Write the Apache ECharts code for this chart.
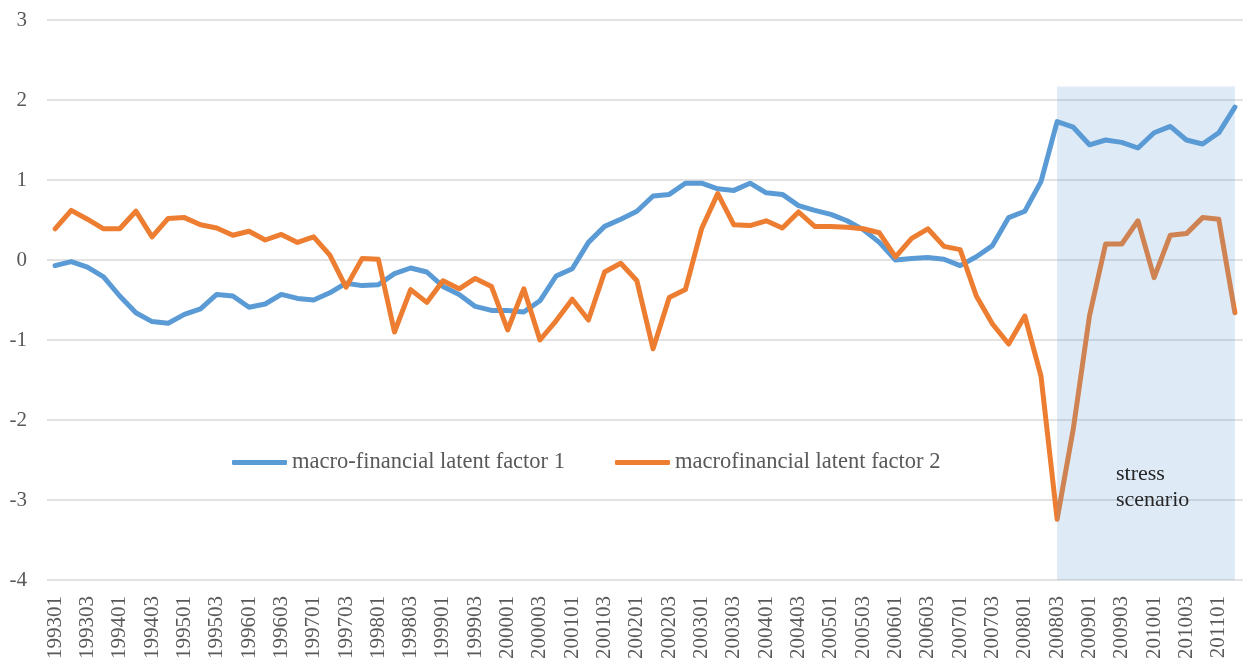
<!DOCTYPE html>
<html>
<head>
<meta charset="utf-8">
<script src="https://cdn.jsdelivr.net/npm/echarts@6/dist/echarts.min.js"></script>
<style>
html,body{margin:0;padding:0;background:#fff;}
#chart{width:1243px;height:664px;}
</style>
</head>
<body>
<div id="chart"></div>
<script>
var quarters = ['199301','199302','199303','199304','199401','199402','199403','199404',
'199501','199502','199503','199504','199601','199602','199603','199604',
'199701','199702','199703','199704','199801','199802','199803','199804',
'199901','199902','199903','199904','200001','200002','200003','200004',
'200101','200102','200103','200104','200201','200202','200203','200204',
'200301','200302','200303','200304','200401','200402','200403','200404',
'200501','200502','200503','200504','200601','200602','200603','200604',
'200701','200702','200703','200704','200801','200802','200803','200804',
'200901','200902','200903','200904','201001','201002','201003','201004',
'201101','201102'];

var factor1 = [-0.07,-0.02,-0.09,-0.21,-0.45,-0.66,-0.77,-0.79,
-0.68,-0.61,-0.43,-0.45,-0.59,-0.55,-0.43,-0.48,
-0.50,-0.41,-0.29,-0.32,-0.31,-0.17,-0.10,-0.15,
-0.33,-0.43,-0.58,-0.63,-0.63,-0.65,-0.51,-0.20,
-0.11,0.22,0.42,0.51,0.61,0.80,0.82,0.96,
0.96,0.89,0.87,0.96,0.84,0.82,0.68,0.62,
0.57,0.49,0.38,0.22,0.00,0.02,0.03,0.01,
-0.07,0.04,0.18,0.53,0.61,0.98,1.73,1.66,
1.44,1.50,1.47,1.40,1.59,1.67,1.50,1.45,
1.59,1.91];

var factor2 = [0.39,0.62,0.51,0.39,0.39,0.61,0.29,0.52,
0.53,0.44,0.40,0.31,0.36,0.25,0.32,0.22,
0.29,0.06,-0.34,0.02,0.01,-0.90,-0.37,-0.53,
-0.26,-0.36,-0.23,-0.33,-0.875,-0.36,-1.00,-0.76,
-0.49,-0.75,-0.15,-0.04,-0.26,-1.11,-0.47,-0.37,
0.39,0.83,0.44,0.43,0.49,0.40,0.60,0.42,
0.42,0.41,0.39,0.34,0.04,0.27,0.39,0.17,
0.13,-0.45,-0.80,-1.05,-0.70,-1.45,-3.24,-2.11,
-0.70,0.20,0.20,0.49,-0.22,0.31,0.33,0.53,
0.51,-0.66];

var seriesNames = ['macro-financial latent factor 1', 'macrofinancial latent factor 2'];
// stress window corners: [category, value]
var stressWindow = [['200803', 2.17], ['201102', -4]];
var stressLabel = 'stress\nscenario';

var chart = echarts.init(document.getElementById('chart'));
var serif = '"Liberation Serif","Times New Roman",serif';
chart.setOption({
  animation: false,
  backgroundColor: '#ffffff',
  grid: {left: 47, top: 20, width: 1201, height: 560, containLabel: false},
  legend: {
    data: [{name: seriesNames[0], icon: 'roundRect'}, {name: seriesNames[1], icon: 'roundRect'}],
    left: 232, top: 451, padding: 0,
    itemWidth: 55, itemHeight: 5, itemGap: 50,
    textStyle: {fontFamily: serif, fontSize: 22.5, color: '#595959'}
  },
  xAxis: {
    type: 'category',
    data: quarters,
    boundaryGap: true,
    axisLine: {show: false},
    axisTick: {show: false},
    axisLabel: {interval: 1, rotate: 90, margin: 16, fontFamily: serif, fontSize: 21, color: '#595959'}
  },
  yAxis: {
    type: 'value',
    min: -4, max: 3, interval: 1,
    axisLine: {show: false},
    axisTick: {show: false},
    axisLabel: {margin: 20, fontFamily: serif, fontSize: 21, color: '#595959'},
    splitLine: {lineStyle: {color: '#d9d9d9', width: 1.5}}
  },
  graphic: [{
    type: 'text', left: 1116, top: 461, z: 20,
    style: {text: stressLabel, font: '22px ' + serif, fill: '#262626', lineHeight: 26}
  }],
  series: [
    {
      name: seriesNames[0], type: 'line', data: factor1, symbol: 'none', z: 3,
      lineStyle: {color: '#5B9BD5', width: 5, cap: 'round', join: 'round'},
      itemStyle: {color: '#5B9BD5'}
    },
    {
      name: seriesNames[1], type: 'line', data: factor2, symbol: 'none', z: 4,
      lineStyle: {color: '#ED7D31', width: 5, cap: 'round', join: 'round'},
      itemStyle: {color: '#ED7D31'}
    },
    {
      type: 'custom', z: 10, silent: true,
      data: [0],
      renderItem: function (params, api) {
        var p1 = api.coord(stressWindow[0]);
        var p2 = api.coord(stressWindow[1]);
        return {
          type: 'rect',
          shape: {x: p1[0], y: p1[1], width: p2[0] - p1[0], height: p2[1] - p1[1]},
          style: {fill: 'rgba(91,155,213,0.2)'}
        };
      }
    }
  ]
});
</script>
</body>
</html>
